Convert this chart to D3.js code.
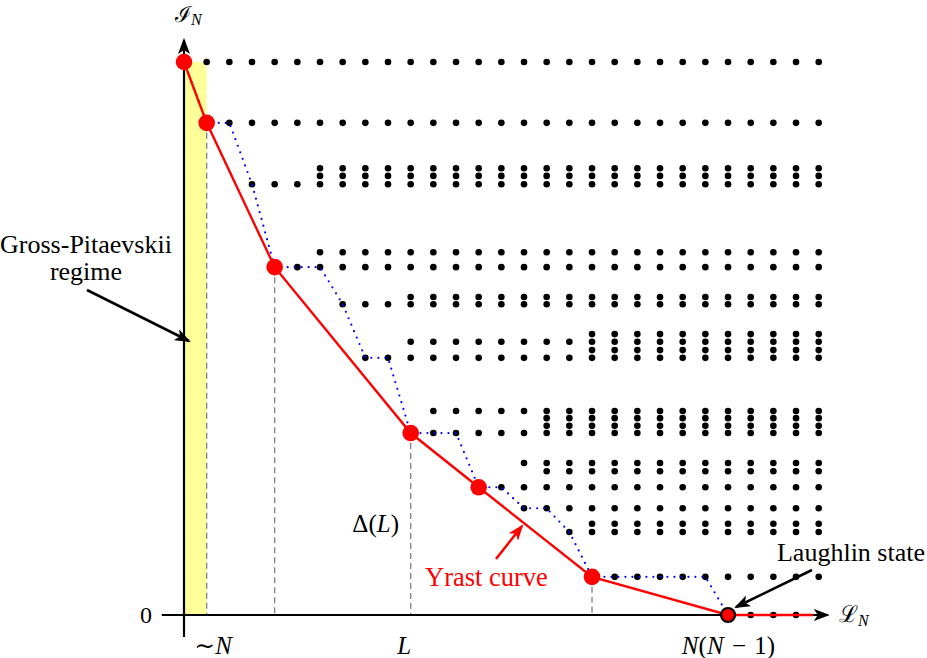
<!DOCTYPE html>
<html>
<head>
<meta charset="utf-8">
<script src="https://cdn.jsdelivr.net/npm/d3@7"></script>
<style>
  body { margin: 0; background: #fff; }
  svg text { font-family: "Liberation Serif", "DejaVu Serif", serif; }
</style>
</head>
<body>
<script>
// energy levels: value, first column with a dot, last column
var levelE    = [10.00, 8.90, 8.08, 7.94, 7.79, 6.56, 6.29, 5.75, 5.62, 5.08, 4.94, 4.79, 4.65,
                 3.69, 3.56, 3.42, 3.29, 2.75, 2.60, 2.31, 1.93, 1.65, 1.50, 0.69, 0];
var levelFrom = [1, 2, 6, 6, 3, 6, 5, 10, 7, 18, 10, 18, 8, 11, 16, 16, 11, 15, 16, 14, 15, 18, 17, 19, 25];
var levelTo   = [28, 28, 28, 28, 28, 28, 28, 28, 28, 28, 28, 28, 28, 28, 28, 28, 28, 28, 28, 28, 28, 28, 28, 28, 27];

// yrast points (red)
var yrastL = [0, 1, 4, 10, 13, 18, 24];
var yrastE = [10.00, 8.90, 6.29, 3.29, 2.31, 0.69, 0];
var dashedL = [1, 4, 10, 18];

var xTickValues = [1, 10, 24];
var xTickLabels = ["\u223CN", "L", "N(N\u2004\u2212\u20041)"];

var width = 927, height = 658;

var svg = d3.select("body").append("svg")
  .attr("width", width)
  .attr("height", height);

var x = d3.scaleLinear().domain([0, 28]).range([184, 818.7]);
var y = d3.scaleLinear().domain([0, 10]).range([615, 62]);

var defs = svg.append("defs");
function marker(id, color) {
  defs.append("marker")
    .attr("id", id)
    .attr("markerUnits", "userSpaceOnUse")
    .attr("viewBox", "0 0 16 12")
    .attr("refX", 14).attr("refY", 6)
    .attr("markerWidth", 16).attr("markerHeight", 12)
    .attr("orient", "auto")
    .append("path")
    .attr("d", "M0,0 L16,6 L0,12 L4,6 Z")
    .attr("fill", color);
}
marker("arrowBlack", "#000");
marker("arrowRed", "#ff0000");

// Gross-Pitaevskii band
svg.append("rect")
  .attr("x", x(0))
  .attr("y", y(10))
  .attr("width", x(1) - x(0))
  .attr("height", y(0) - y(10))
  .attr("fill", "#ffff99");

// dashed drop lines
var yrastPts = yrastL.map(function(l, i) { return {L: l, E: yrastE[i]}; });
svg.selectAll(".drop")
  .data(yrastPts.filter(function(d) { return dashedL.indexOf(d.L) >= 0; }))
  .enter().append("line")
  .attr("x1", function(d) { return x(d.L); })
  .attr("x2", function(d) { return x(d.L); })
  .attr("y1", function(d) { return y(d.E); })
  .attr("y2", y(0))
  .attr("stroke", "#888")
  .attr("stroke-width", 1.4)
  .attr("stroke-dasharray", "6,4");

// axes
svg.append("line")
  .attr("x1", x(-0.98)).attr("y1", y(0))
  .attr("x2", x(28.4)).attr("y2", y(0))
  .attr("stroke", "#000").attr("stroke-width", 2.2)
  .attr("marker-end", "url(#arrowBlack)");
svg.append("line")
  .attr("x1", x(0)).attr("y1", y(-0.4))
  .attr("x2", x(0)).attr("y2", y(10.4))
  .attr("stroke", "#000").attr("stroke-width", 2.2)
  .attr("marker-end", "url(#arrowBlack)");

function mathText(sel, str) {
  sel.text(null);
  var runs = str.match(/[A-Za-z]+|[^A-Za-z]+/g);
  runs.forEach(function(r) {
    sel.append("tspan")
      .attr("font-style", /[A-Za-z]/.test(r) ? "italic" : "normal")
      .text(r);
  });
}

var xAxis = svg.append("g")
  .attr("transform", "translate(0," + y(0) + ")")
  .call(d3.axisBottom(x).tickValues(xTickValues).tickSize(0).tickPadding(21)
        .tickFormat(function(d, i) { return xTickLabels[i]; }));
xAxis.select(".domain").remove();
xAxis.selectAll("text")
  .attr("font-size", 25)
  .attr("font-family", "Liberation Serif, serif")
  .attr("fill", "#000")
  .each(function(d, i) {
    mathText(d3.select(this), xTickLabels[i]);
    if (i === 0) d3.select(this).attr("dx", 6);
    if (i === 1) d3.select(this).attr("dx", -7);
  });

var yAxis = svg.append("g")
  .attr("transform", "translate(" + x(0) + ",0)")
  .call(d3.axisLeft(y).tickValues([0]).tickSize(0).tickPadding(32).tickFormat(d3.format("d")));
yAxis.select(".domain").remove();
yAxis.selectAll("text")
  .attr("font-size", 24)
  .attr("font-family", "Liberation Serif, serif")
  .attr("fill", "#000");

// black states
var states = [];
levelE.forEach(function(e, i) {
  d3.range(levelFrom[i], levelTo[i] + 1).forEach(function(l) {
    states.push({L: l, E: e});
  });
});
svg.selectAll(".state")
  .data(states)
  .enter().append("circle")
  .attr("cx", function(d) { return x(d.L); })
  .attr("cy", function(d) { return y(d.E); })
  .attr("r", 3.3)
  .attr("fill", "#000");

// lowest state per angular momentum (dotted blue)
var allPts = states.concat(yrastPts);
var lowest = d3.range(0, 25).map(function(l) {
  return {L: l, E: d3.min(allPts.filter(function(d) { return d.L === l; }), function(d) { return d.E; })};
});
var line = d3.line()
  .x(function(d) { return x(d.L); })
  .y(function(d) { return y(d.E); });
svg.append("path")
  .attr("d", line(lowest))
  .attr("fill", "none")
  .attr("stroke", "#0000ff")
  .attr("stroke-width", 2.2)
  .attr("stroke-linecap", "round")
  .attr("stroke-dasharray", "0,7");

// yrast curve
svg.append("path")
  .attr("d", line(yrastPts.concat([{L: 27.75, E: 0}])))
  .attr("fill", "none")
  .attr("stroke", "#ff0000")
  .attr("stroke-width", 2.4);

svg.selectAll(".yrast")
  .data(yrastPts)
  .enter().append("circle")
  .attr("cx", function(d) { return x(d.L); })
  .attr("cy", function(d) { return y(d.E); })
  .attr("r", function(d, i) { return i === yrastPts.length - 1 ? 7 : 8.3; })
  .attr("fill", "#ff0000")
  .attr("stroke", function(d, i) { return i === yrastPts.length - 1 ? "#000" : "none"; })
  .attr("stroke-width", 2.2);

// axis titles
var yTitle = svg.append("text").attr("x", 175).attr("y", 22).attr("font-size", 22);
yTitle.append("tspan").text("\u2110");
yTitle.append("tspan").attr("font-size", 16).attr("font-style", "italic").attr("dy", 3).text("N");

var xTitle = svg.append("text").attr("x", 839).attr("y", 622).attr("font-size", 23);
xTitle.append("tspan").text("\u2112");
xTitle.append("tspan").attr("font-size", 16).attr("font-style", "italic").attr("dy", 4).text("N");

// Delta(L)
var delta = svg.append("text")
  .attr("x", 399).attr("y", 532)
  .attr("text-anchor", "end")
  .attr("font-size", 25);
mathText(delta, "\u0394(L)");

// annotations
var gp = svg.append("text")
  .attr("text-anchor", "middle")
  .attr("font-size", 26);
gp.append("tspan").attr("x", 86).attr("y", 253).text("Gross-Pitaevskii");
gp.append("tspan").attr("x", 86).attr("y", 280).text("regime");

svg.append("line")
  .attr("x1", 87).attr("y1", 290)
  .attr("x2", 189).attr("y2", 341)
  .attr("stroke", "#000").attr("stroke-width", 2.6)
  .attr("marker-end", "url(#arrowBlack)");

svg.append("text")
  .attr("x", 851).attr("y", 561)
  .attr("text-anchor", "middle")
  .attr("font-size", 26)
  .text("Laughlin state");

svg.append("line")
  .attr("x1", 812).attr("y1", 570)
  .attr("x2", 736).attr("y2", 607)
  .attr("stroke", "#000").attr("stroke-width", 2.6)
  .attr("marker-end", "url(#arrowBlack)");

svg.append("text")
  .attr("x", 425).attr("y", 586)
  .attr("font-size", 26.5)
  .attr("fill", "#ff0000")
  .text("Yrast curve");

svg.append("line")
  .attr("x1", 496).attr("y1", 559)
  .attr("x2", 522).attr("y2", 526)
  .attr("stroke", "#ff0000").attr("stroke-width", 2.6)
  .attr("marker-end", "url(#arrowRed)");
</script>
</body>
</html>
